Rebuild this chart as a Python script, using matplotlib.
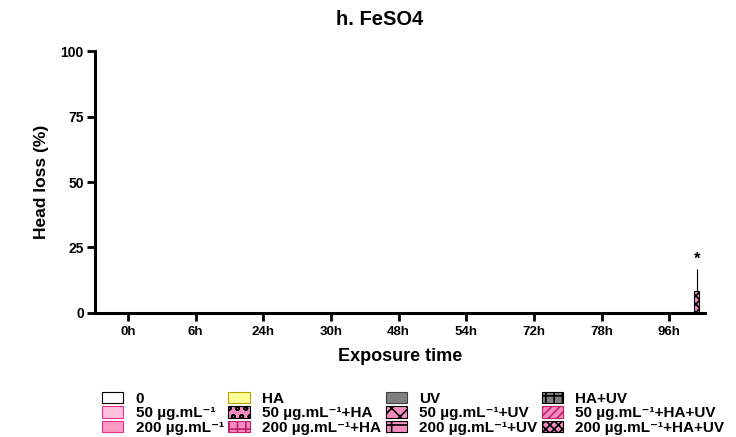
import numpy as np
import matplotlib.pyplot as plt

plt.rcParams['font.family'] = ['Liberation Sans', 'DejaVu Sans']
plt.rcParams['font.weight'] = 'bold'
plt.rcParams['hatch.linewidth'] = 1.2

times = ['0h', '6h', '24h', '30h', '48h', '54h', '72h', '78h', '96h']
groups = ['0', '50 µg.mL⁻¹', '200 µg.mL⁻¹',
          'HA', '50 µg.mL⁻¹+HA', '200 µg.mL⁻¹+HA',
          'UV', '50 µg.mL⁻¹+UV', '200 µg.mL⁻¹+UV',
          'HA+UV', '50 µg.mL⁻¹+HA+UV', '200 µg.mL⁻¹+HA+UV']

# head loss (%) per group, one value per time point
head_loss = [[0] * 9 for _ in groups]
head_loss[11] = [0, 0, 0, 0, 0, 0, 0, 0, 8.3]
err_up = [[0] * 9 for _ in groups]
err_up[11] = [0, 0, 0, 0, 0, 0, 0, 0, 8.3]

facecols = ['white', '#ffc2dc', '#f99ac6', '#ffff99', '#f48cc0', '#f48cc0',
            '#808080', '#f48cc0', '#f48cc0', '#808080', '#f48cc0', '#f48cc0']
edgecols = ['black', '#e8308a', '#e8308a', '#b0a000', 'black', '#c0206a',
            '#404040', 'black', 'black', 'black', '#c0206a', 'black']
hatches = [None, None, None, None, 'oo', '++', None, 'xx', '-|', '++', '////', 'xxxx']

fig = plt.figure(figsize=(7.36, 4.37), dpi=100)
ax = fig.add_axes([0.129, 0.284, 0.829, 0.599])

x = np.arange(len(times))
w = 0.074
for i, g in enumerate(groups):
    pos = x + (i - 5.5) * w
    ax.bar(pos, head_loss[i], width=w, color=facecols[i], edgecolor=edgecols[i],
           hatch=hatches[i], linewidth=0.8, label=g)
    vals = np.array(head_loss[i])
    errs = np.array(err_up[i])
    m = errs > 0
    if m.any():
        ax.errorbar(pos[m], vals[m], yerr=[np.zeros(m.sum()), errs[m]], fmt='none',
                    ecolor='black', elinewidth=0.8, capsize=0)
        for p, v, e in zip(pos[m], vals[m], errs[m]):
            ax.text(p, v + e + 1.2, '*', ha='center', va='bottom', fontsize=12, fontweight='bold')

ax.set_xlim(-0.49, 8.53)
ax.set_ylim(0, 100)
ax.set_yticks([0, 25, 50, 75, 100])
ax.set_xticks(x)
ax.set_xticklabels(times, fontsize=9.5, fontweight='bold')
ax.tick_params(axis='y', labelsize=10, width=2, length=6, pad=2)
ax.tick_params(axis='x', width=2, length=6)
for lab in ax.get_yticklabels():
    lab.set_fontweight('bold')
ax.spines['top'].set_visible(False)
ax.spines['right'].set_visible(False)
ax.spines['left'].set_linewidth(2.2)
ax.spines['bottom'].set_linewidth(2.2)

ax.set_ylabel('Head loss (%)', fontsize=12.5, fontweight='bold', labelpad=8)
ax.set_xlabel('Exposure time', fontsize=13, fontweight='bold', labelpad=7)
fig.text(0.516, 0.955, 'h. FeSO4', ha='center', va='center', fontsize=14.5, fontweight='bold')

handles, labels = ax.get_legend_handles_labels()
fig.legend(handles, labels, ncol=4, loc='upper left', bbox_to_anchor=(0.1386, 0.104),
           frameon=False, handlelength=1.4, handleheight=0.75,
           labelspacing=0.05, columnspacing=0.3, handletextpad=0.8, borderpad=0,
           borderaxespad=0, prop={'weight': 'bold', 'size': 11})

fig.savefig('out.png', dpi=100)
